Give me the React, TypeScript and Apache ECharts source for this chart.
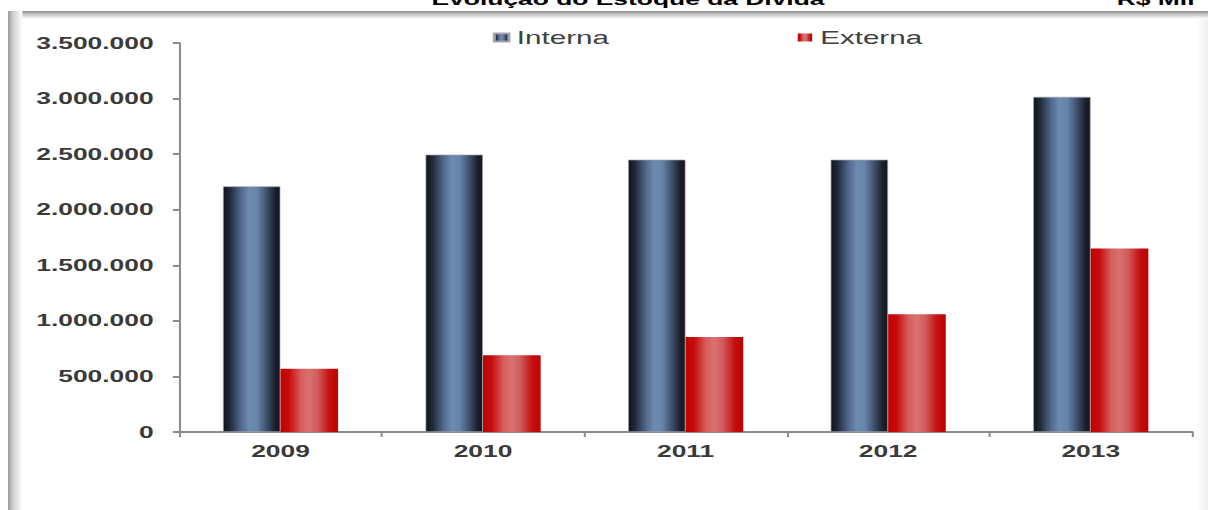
import React, { useEffect, useRef } from "react";
import * as echarts from "echarts";

const categories = ["2009", "2010", "2011", "2012", "2013"];
const interna = [2210000, 2495000, 2450000, 2450000, 3015000];
const externa = [570000, 690000, 855000, 1060000, 1650000];
const seriesNames = ["Interna", "Externa"];
const titleText = "Evolução do Estoque da Dívida";
const unitText = "R$ Mil";

const SX = 1.6; // horizontal stretch of the reference picture
const W = 1208;
const H = 510;
const CW = W / SX;
const FONT = "'Liberation Sans', Arial, Helvetica, sans-serif";

const fmt = (v: number) => String(v).replace(/\B(?=(\d{3})+(?!\d))/g, ".");

export default function App() {
  const ref = useRef<HTMLDivElement>(null);
  useEffect(() => {
    if (!ref.current) return;
    const chart = echarts.init(ref.current, undefined, { renderer: "svg" });
    const blue = new echarts.graphic.LinearGradient(0, 0, 1, 0, [
      { offset: 0, color: "#101319" },
      { offset: 0.12, color: "#222b3b" },
      { offset: 0.3, color: "#4f6688" },
      { offset: 0.45, color: "#6d8ab0" },
      { offset: 0.6, color: "#6683a8" },
      { offset: 0.78, color: "#3a4b66" },
      { offset: 0.92, color: "#1a1e28" },
      { offset: 1, color: "#15171d" },
    ]);
    const red = new echarts.graphic.LinearGradient(0, 0, 1, 0, [
      { offset: 0, color: "#c00000" },
      { offset: 0.15, color: "#c60c0c" },
      { offset: 0.35, color: "#d65c5c" },
      { offset: 0.5, color: "#d97272" },
      { offset: 0.65, color: "#d05a5a" },
      { offset: 0.85, color: "#c41010" },
      { offset: 1, color: "#bf0000" },
    ]);
    chart.setOption({
      animation: false,
      backgroundColor: "#ffffff",
      textStyle: { fontFamily: FONT },
      grid: { left: 112, right: CW - 745, top: 43, bottom: 78, containLabel: false },
      legend: {
        data: seriesNames,
        left: 308,
        top: 28,
        padding: 0,
        itemWidth: 9,
        itemHeight: 8,
        itemGap: 118,
        icon: "rect",
        textStyle: { fontFamily: FONT, fontSize: 18.5, color: "#404040", padding: [0, 0, 0, 0] },
      },
      xAxis: {
        type: "category",
        data: categories,
        axisLine: { lineStyle: { color: "#8c8c8c", width: 2 } },
        axisTick: { show: true, length: 5, lineStyle: { color: "#8c8c8c", width: 1.3 } },
        axisLabel: { fontFamily: FONT, fontSize: 16.5, fontWeight: "bold", color: "#3a3a3a", margin: 11 },
        splitLine: { show: false },
      },
      yAxis: {
        type: "value",
        min: 0,
        max: 3500000,
        interval: 500000,
        axisLine: { show: true, lineStyle: { color: "#8c8c8c", width: 1.3 } },
        axisTick: { show: true, length: 4, lineStyle: { color: "#8c8c8c", width: 2 } },
        axisLabel: {
          fontFamily: FONT,
          fontSize: 16.5,
          fontWeight: "bold",
          color: "#3a3a3a",
          margin: 16,
          formatter: (v: number) => fmt(v),
        },
        splitLine: { show: false },
      },
      series: [
        {
          name: seriesNames[0],
          type: "bar",
          data: interna,
          barWidth: 36,
          barGap: "0%",
          itemStyle: { color: blue, borderColor: "rgba(160,160,170,0.9)", borderWidth: 0.6 },
        },
        {
          name: seriesNames[1],
          type: "bar",
          data: externa,
          barWidth: 36,
          barGap: "0%",
          itemStyle: { color: red },
        },
      ],
      graphic: [
        {
          type: "rect",
          silent: true,
          z: -1,
          shape: { x: 5, y: 11, width: CW - 5, height: 8 },
          style: {
            fill: new echarts.graphic.LinearGradient(0, 0, 0, 1, [
              { offset: 0, color: "#8a8a8a" },
              { offset: 0.4, color: "#c4c4c4" },
              { offset: 1, color: "#ffffff" },
            ]),
          },
        },
        {
          type: "rect",
          silent: true,
          z: -1,
          shape: { x: 5, y: 11, width: 9, height: H - 11 },
          style: {
            fill: new echarts.graphic.LinearGradient(0, 0, 1, 0, [
              { offset: 0, color: "#9a9a9a" },
              { offset: 0.35, color: "#d0d0d0" },
              { offset: 1, color: "#ffffff" },
            ]),
          },
        },
        {
          type: "rect",
          silent: true,
          z: -1,
          shape: { x: CW - 8, y: 19, width: 8, height: H - 19 },
          style: {
            fill: new echarts.graphic.LinearGradient(0, 0, 1, 0, [
              { offset: 0, color: "#ffffff" },
              { offset: 1, color: "#f0f0f0" },
            ]),
          },
        },
        {
          type: "text",
          silent: true,
          x: 392.5,
          y: -1,
          style: {
            text: titleText,
            fontFamily: FONT,
            fontSize: 16.5,
            fontWeight: "bold",
            fill: "#000000",
            align: "center",
            verticalAlign: "middle",
          },
        },
        {
          type: "text",
          silent: true,
          x: 698,
          y: -1,
          style: {
            text: unitText,
            fontFamily: FONT,
            fontSize: 16.5,
            fontWeight: "bold",
            fill: "#000000",
            align: "left",
            verticalAlign: "middle",
          },
        },
      ],
    });
    return () => chart.dispose();
  }, []);
  return (
    <div
      style={{
        position: "fixed",
        left: 0,
        top: 0,
        width: W,
        height: H,
        overflow: "hidden",
        background: "#ffffff",
      }}
    >
      <div
        ref={ref}
        style={{
          width: CW,
          height: H,
          transform: `scaleX(${SX})`,
          transformOrigin: "0 0",
        }}
      />
    </div>
  );
}
